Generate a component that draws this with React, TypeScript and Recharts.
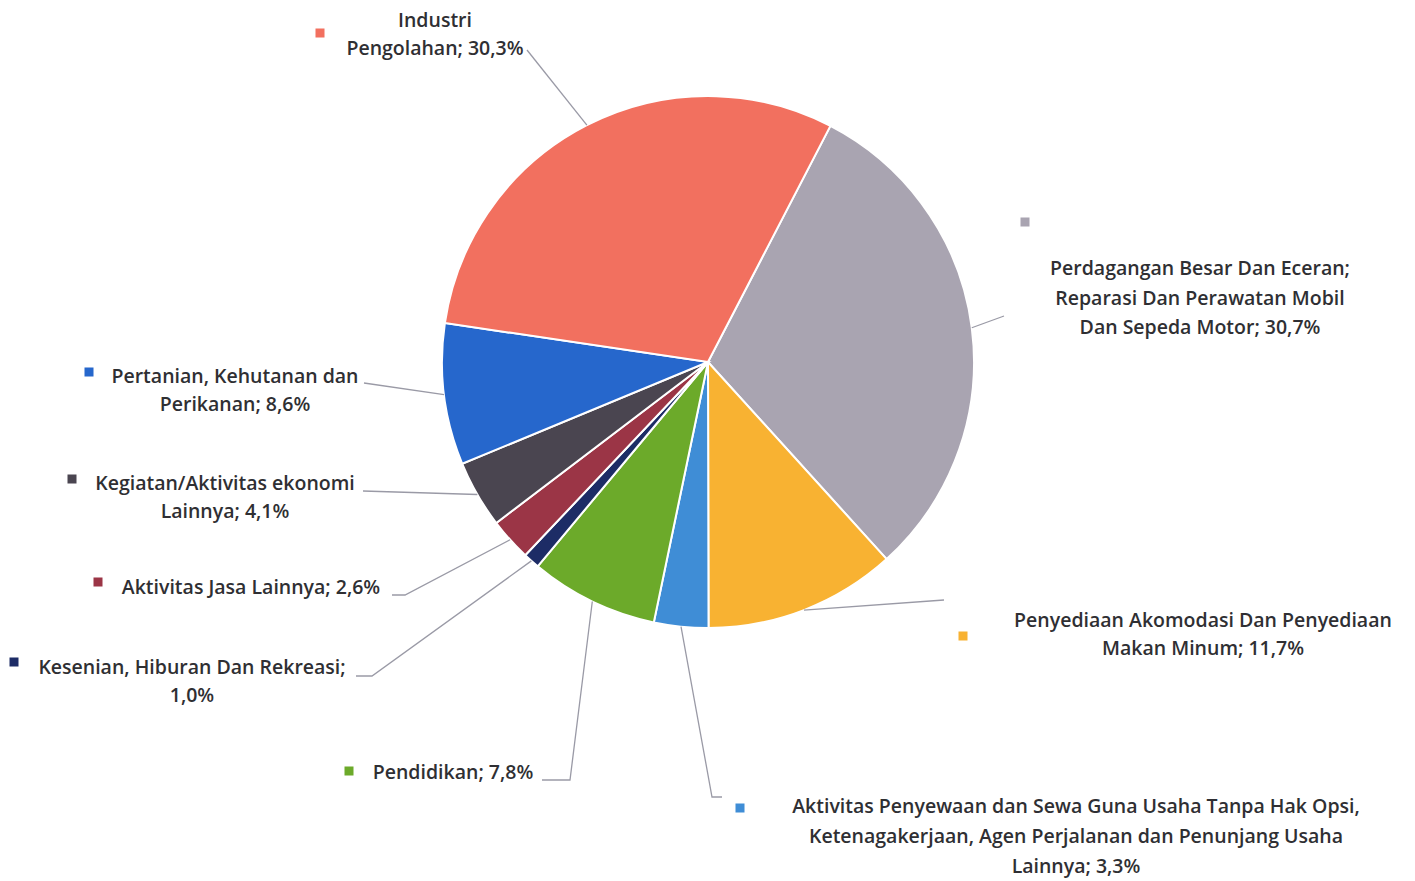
import { PieChart, Pie, Cell } from "recharts";

// sectors, clockwise from the top-right edge of Industri Pengolahan
const sectors = [
  "Perdagangan Besar Dan Eceran; Reparasi Dan Perawatan Mobil Dan Sepeda Motor",
  "Penyediaan Akomodasi Dan Penyediaan Makan Minum",
  "Aktivitas Penyewaan dan Sewa Guna Usaha Tanpa Hak Opsi, Ketenagakerjaan, Agen Perjalanan dan Penunjang Usaha Lainnya",
  "Pendidikan",
  "Kesenian, Hiburan Dan Rekreasi",
  "Aktivitas Jasa Lainnya",
  "Kegiatan/Aktivitas ekonomi Lainnya",
  "Pertanian, Kehutanan dan Perikanan",
  "Industri Pengolahan",
];
const shares = [30.7, 11.7, 3.3, 7.8, 1.0, 2.6, 4.1, 8.6, 30.3];

// label text as it is wrapped in the picture
const labelLines = [
  ["Perdagangan Besar Dan Eceran;", "Reparasi Dan Perawatan Mobil", "Dan Sepeda Motor; {v}"],
  ["Penyediaan Akomodasi Dan Penyediaan", "Makan Minum; {v}"],
  [
    "Aktivitas Penyewaan dan Sewa Guna Usaha Tanpa Hak Opsi,",
    "Ketenagakerjaan, Agen Perjalanan dan Penunjang Usaha",
    "Lainnya; {v}",
  ],
  ["Pendidikan; {v}"],
  ["Kesenian, Hiburan Dan Rekreasi;", "{v}"],
  ["Aktivitas Jasa Lainnya; {v}"],
  ["Kegiatan/Aktivitas ekonomi", "Lainnya; {v}"],
  ["Pertanian, Kehutanan dan", "Perikanan; {v}"],
  ["Industri", "Pengolahan; {v}"],
];

const colors = [
  "#a9a4b1",
  "#f8b232",
  "#3f8dd6",
  "#6caa2a",
  "#1d2c66",
  "#9b3546",
  "#4a4550",
  "#2667cc",
  "#f2705f",
];

// label placement (page pixels): marker square, text centre x, first line y, line gap, leader bend points
const labelLayout = [
  { mx: 1025, my: 222, tx: 1200, ty: 275, gap: 29.5, leader: [[1004, 316]] },
  { mx: 963, my: 636, tx: 1203, ty: 627, gap: 28, leader: [[944, 600]] },
  { mx: 740, my: 808, tx: 1076, ty: 813, gap: 30, leader: [[712, 797], [722, 797]] },
  { mx: 349, my: 771, tx: 453, ty: 779, gap: 28, leader: [[570, 780], [542, 780]] },
  { mx: 14, my: 662, tx: 192, ty: 674, gap: 28, leader: [[372, 676], [356, 676]] },
  { mx: 98, my: 582, tx: 251, ty: 594, gap: 28, leader: [[405, 595], [392, 595]] },
  { mx: 72, my: 479, tx: 225, ty: 490, gap: 28, leader: [[363, 491]] },
  { mx: 89, my: 372, tx: 235, ty: 383, gap: 28, leader: [[364, 383]] },
  { mx: 320, my: 33, tx: 435, ty: 27, gap: 28, leader: [[527, 50]] },
];

const data = sectors.map((name, i) => ({ name, value: shares[i] }));

const RADIAN = Math.PI / 180;
const fmt = (v: number) => v.toFixed(1).replace(".", ",") + "%";

const renderLabel = (props: any) => {
  const { index, value } = props;
  const lay = labelLayout[index];
  return (
    <g>
      <rect x={lay.mx - 4.5} y={lay.my - 4.5} width={9} height={9} fill={colors[index]} />
      {labelLines[index].map((line, k) => (
        <text
          key={k}
          x={lay.tx}
          y={lay.ty + k * lay.gap}
          textAnchor="middle"
          fill="#2f2f33"
          fontSize={19.5}
          fontFamily="'Open Sans', 'Noto Sans', sans-serif"
          fontWeight={600}
        >
          {line.replace("{v}", fmt(value))}
        </text>
      ))}
    </g>
  );
};

const renderLine = (props: any) => {
  const { cx, cy, midAngle, outerRadius, index } = props;
  const sx = cx + outerRadius * Math.cos(-midAngle * RADIAN);
  const sy = cy + outerRadius * Math.sin(-midAngle * RADIAN);
  const pts = [[sx, sy], ...labelLayout[index].leader];
  const d = pts.map((p, k) => (k === 0 ? "M" : "L") + p[0] + "," + p[1]).join(" ");
  return <path d={d} stroke="#9a9aa6" strokeWidth={1.3} fill="none" />;
};

export default function App() {
  return (
    <div style={{ position: "absolute", left: 0, top: 0, width: 1415, height: 881, background: "#fff" }}>
      <PieChart width={1415} height={881} margin={{ top: 0, right: 0, bottom: 0, left: 0 }}>
        <Pie
          data={data}
          dataKey="value"
          nameKey="name"
          cx={708}
          cy={362}
          outerRadius={266}
          startAngle={62.6}
          endAngle={-297.4}
          stroke="#ffffff"
          strokeWidth={2}
          label={renderLabel}
          labelLine={renderLine}
          isAnimationActive={false}
        >
          {data.map((d, i) => (
            <Cell key={d.name} fill={colors[i]} />
          ))}
        </Pie>
      </PieChart>
    </div>
  );
}
